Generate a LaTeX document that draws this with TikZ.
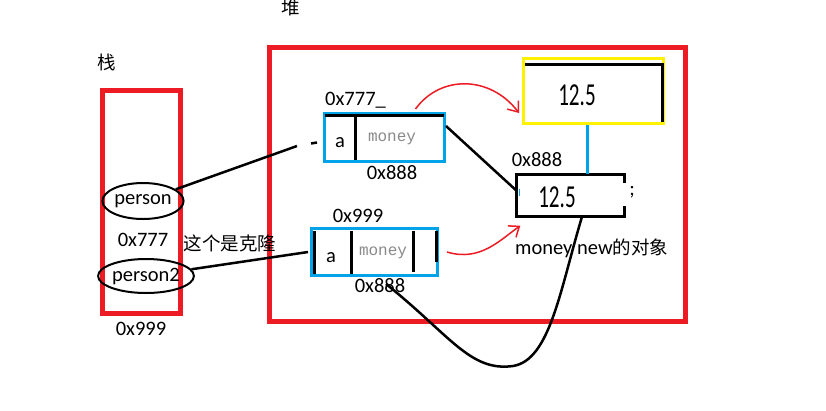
\documentclass[tikz,border=0pt]{standalone}
\usepackage{fontspec}
\usepackage{graphicx}
\setmainfont{Carlito}
\newfontfamily\cjk{Noto Sans CJK SC}
\newfontfamily\monof{Liberation Mono}
\usetikzlibrary{shapes.geometric,arrows.meta}
\definecolor{myred}{HTML}{ED1C24}
\definecolor{myblue}{HTML}{00A2E8}
\definecolor{myyellow}{HTML}{FFF200}
\definecolor{mygray}{HTML}{8A8A8A}
\begin{document}
\begin{tikzpicture}[x=1pt,y=-1pt,
  txt/.style={inner sep=0pt,font=\fontsize{20.5}{22}\selectfont},
  cjktxt/.style={inner sep=0pt,font=\cjk\fontsize{18.5}{20}\selectfont},
  monotxt/.style={inner sep=0pt,text=mygray,font=\monof\fontsize{16}{18}\selectfont},
  bigtxt/.style={inner sep=0pt,font=\fontsize{32}{33}\selectfont},
  redbox/.style={draw=myred,line width=5pt,inner sep=0pt},
  bluebox/.style={draw=myblue,line width=3pt,inner sep=0pt},
  ell/.style={draw=black,line width=2pt,ellipse,inner sep=0pt},
  conn/.style={draw=black,line width=2.5pt},
  redarrow/.style={draw=myred,line width=1.5pt,-{Straight Barb[length=9pt,width=14pt,line width=1.5pt]}},
  blk/.style={draw=black,line width=3pt}]
\useasboundingbox (0,0) rectangle (826,410);
\fill[white] (0,0) rectangle (826,410);

% titles
\node[cjktxt] (zhan) at (107,62) {栈};
\node[cjktxt] (dui) at (291,8) {堆};

% frames
\node[redbox,minimum width=78,minimum height=223] (stack) at (141.5,202) {};
\node[redbox,minimum width=416,minimum height=274] (heap) at (477.5,184.5) {};

% stack contents
\node[ell,minimum width=76,minimum height=36] (person) at (143,201) {\fontsize{20.5}{22}\selectfont person};
\node[txt] (s777) at (143,240) {0x777};
\node[ell,minimum width=86,minimum height=34] (person2) at (146,276) {\fontsize{20.5}{22}\selectfont person2};
\node[txt] (s999) at (141,329) {0x999};
\node[cjktxt] (clone) at (230,243) {这个是克隆};

% object box 1
\node[bluebox,minimum width=120,minimum height=48] (box1) at (384.5,137.5) {};
\draw[blk] (325,115) -- (444,115);
\draw[blk] (355,116) -- (355,160);
\node[txt] (a1) at (340,143) {a};
\node[monotxt] (m1) at (392,139) {money};
\node[txt,anchor=west] (b1top) at (325,100) {0x777\_};
\node[txt] (b1bot) at (392,173) {0x888};

% object box 2
\node[bluebox,minimum width=126,minimum height=47] (box2) at (374.5,252) {};
\draw[blk] (314,231) -- (314,274);
\draw[blk] (351,231) -- (351,274);
\draw[blk] (413,231) -- (413,272);
\draw[blk] (436,231) -- (436,262);
\node[txt] (a2) at (331,258) {a};
\node[monotxt] (m2) at (383,253) {money};
\node[txt] (b2top) at (358,216) {0x999};
\node[txt] (b2bot) at (380,286) {0x888};

% yellow box
\node[draw=myyellow,line width=3pt,inner sep=0pt,minimum width=140,minimum height=65] (yellow) at (593.5,91) {};
\draw[blk] (525,64.5) -- (662,64.5) -- (662,122);
\node[bigtxt] (v1) at (577,95) {\scalebox{0.66}[1]{12.5}};

% box 3
\node[inner sep=0pt,minimum width=108,minimum height=42] (box3) at (570.5,195.5) {};
\draw[blk] (624.5,183) -- (624.5,174.5) -- (516.5,174.5) -- (516.5,216.5) -- (624.5,216.5) -- (624.5,206);
\draw[myblue,line width=1pt] (519,189) -- (519,196);
\node[bigtxt] (v2) at (557,197) {\scalebox{0.66}[1]{12.5}};
\node[txt] (semi) at (632,192) {;};
\node[txt] (b3top) at (537,160) {0x888};
\node[txt,anchor=west] (newobj) at (515,248) {money new\cjk\fontsize{18.5}{20}\selectfont 的对象};

% blue link
\draw[myblue,line width=3pt] (yellow.south -| 587,0) -- (box3.north -| 587,0);

% connectors
\coordinate (e1) at (297,146);
\coordinate (d1) at (311,143.5);
\coordinate (d2) at (317,142.5);
\draw[conn] (person) -- (e1);
\draw[conn] (d1) -- (d2);
\draw[conn] (person2) -- ([xshift=-2pt]box2.west);
\draw[conn] ([yshift=-14pt]box1.north east) -- ([yshift=5pt]box3.west);
\coordinate (c0) at (386,284);
\draw[conn] (c0) .. controls (450,335) and (470,372) .. (513,366)
  .. controls (550,360) and (560,290) .. ([xshift=11.5pt]box3.south);

% red arrows
\draw[redarrow] ([xshift=31pt,yshift=3pt]box1.north) .. controls (440,75) and (490,75) .. ([xshift=-3pt,yshift=12pt]yellow.south west);
\draw[redarrow] ([xshift=8pt]box2.east) .. controls (480,262) and (500,240) .. ([xshift=4pt,yshift=-9pt]box3.south west);
\end{tikzpicture}
\end{document}
